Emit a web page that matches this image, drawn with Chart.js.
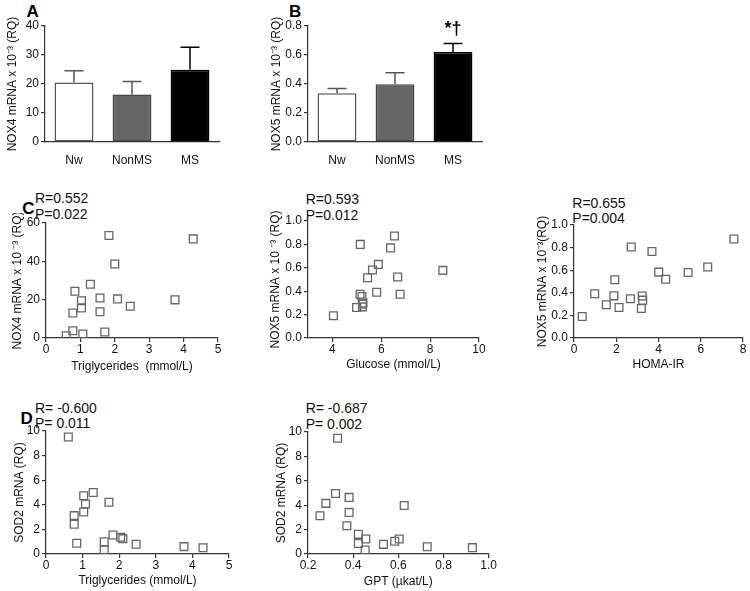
<!DOCTYPE html>
<html>
<head>
<meta charset="utf-8">
<script src="https://cdn.jsdelivr.net/npm/chart.js@4.4.1/dist/chart.umd.min.js"></script>
<style>
body { margin: 0; width: 750px; height: 591px; overflow: hidden; background: #fff; position: relative; font-family: "Liberation Sans", Arial, sans-serif; }
canvas { position: absolute; }
.rp { position: absolute; font-size: 14px; line-height: 15.5px; color: #111; white-space: nowrap; }
.pl { position: absolute; font-size: 17px; line-height: 17px; font-weight: bold; color: #000; }
</style>
</head>
<body>
<div class="pl" style="left:26.5px;top:2.8px">A</div>
<div class="pl" style="left:289px;top:2.8px">B</div>
<div class="pl" style="left:22.3px;top:199.5px">C</div>
<div class="pl" style="left:20.5px;top:409.5px">D</div>
<div class="rp" style="left:35px;top:191.4px">R=0.552<br>P=0.022</div>
<div class="rp" style="left:305.7px;top:192.4px">R=0.593<br>P=0.012</div>
<div class="rp" style="left:572.3px;top:195.7px">R=0.655<br>P=0.004</div>
<div class="rp" style="left:35px;top:400.7px">R= -0.600<br>P= 0.011</div>
<div class="rp" style="left:305.7px;top:401.4px">R= -0.687<br>P= 0.002</div>
<script>
// bar panels A, B
var groups = ['Nw', 'NonMS', 'MS'];
var nox4Mean = [20.5, 16.4, 24.9];
var nox4Sem = [4.1, 4.5, 7.8];
var nox5Mean = [0.337, 0.399, 0.62];
var nox5Sem = [0.032, 0.078, 0.06];
var nox5Marks = ['', '', '*\u2020'];

// scatter panels C
var tgC = [0.59, 0.78, 0.78, 0.84, 1.07, 1.03, 1.03, 1.29, 1.57, 1.57, 1.71, 1.83, 2.0, 2.08, 2.45, 3.75, 4.28];
var nox4Tg = [1.2, 3.8, 13, 24.4, 2.1, 15.7, 19.4, 28, 20.9, 13.7, 3.1, 53.5, 38.6, 20.4, 16.6, 19.9, 51.7];
var glucose = [4.04, 4.99, 5.14, 5.13, 5.21, 5.23, 5.23, 5.25, 5.44, 5.64, 5.88, 5.81, 6.38, 6.54, 6.67, 6.77, 8.52];
var nox5Glu = [0.19, 0.26, 0.80, 0.374, 0.354, 0.289, 0.266, 0.30, 0.515, 0.581, 0.629, 0.391, 0.77, 0.872, 0.521, 0.374, 0.578];
var homa = [0.39, 0.98, 1.53, 1.89, 1.93, 2.13, 2.67, 2.71, 3.23, 3.25, 3.19, 3.69, 4.01, 4.34, 5.4, 6.33, 7.57];
var nox5Homa = [0.19, 0.391, 0.294, 0.373, 0.515, 0.27, 0.347, 0.806, 0.371, 0.335, 0.261, 0.766, 0.583, 0.52, 0.58, 0.629, 0.876];

// scatter panels D
var tgD = [0.61, 0.77, 0.77, 0.84, 1.03, 1.08, 1.03, 1.29, 1.72, 1.59, 1.59, 1.83, 2.04, 2.10, 2.46, 3.77, 4.29];
var sod2Tg = [9.51, 3.12, 2.42, 0.87, 4.73, 4.07, 3.42, 5.0, 4.21, 1.0, 0.33, 1.55, 1.36, 1.25, 0.79, 0.6, 0.51];
var gpt = [0.253, 0.279, 0.322, 0.331, 0.382, 0.382, 0.372, 0.423, 0.423, 0.456, 0.453, 0.534, 0.584, 0.604, 0.626, 0.728, 0.928];
var sod2Gpt = [3.13, 4.15, 4.96, 9.49, 4.64, 3.41, 2.31, 1.61, 0.87, 1.23, 0.33, 0.79, 1.04, 1.23, 3.98, 0.6, 0.52];

// tick labels
var ticksNox4Bar = [0, 10, 20, 30, 40];
var ticksNox5Bar = [0, 0.2, 0.4, 0.6, 0.8];
var ticksTg = [0, 1, 2, 3, 4, 5];
var ticksNox4 = [0, 20, 40, 60];
var ticksGlu = [4, 6, 8, 10];
var ticksNox5 = [0, 0.2, 0.4, 0.6, 0.8, 1.0];
var ticksHoma = [0, 2, 4, 6, 8];
var ticksSod2 = [0, 2, 4, 6, 8, 10];
var ticksGpt = [0.2, 0.4, 0.6, 0.8, 1.0];

var F = '"Liberation Sans", Arial, sans-serif';
var YW = 45, PT = 10, PR = 8;
var AXC = '#333';

function addCanvas(a, xh) {
    var c = document.createElement('canvas');
    var w = a.r - a.l + YW + PR, h = a.b - a.t + PT + xh;
    c.width = w; c.height = h;
    c.style.left = (a.l - YW) + 'px'; c.style.top = (a.t - PT) + 'px';
    c.style.width = w + 'px'; c.style.height = h + 'px';
    document.body.appendChild(c);
    return c;
}

function fmt(dec) { return function(v) { return dec ? Number(v).toFixed(dec) : String(v); }; }

function yAxis(ticks, dec, title, tpad) {
    return {
        type: 'linear', min: ticks[0], max: ticks[ticks.length - 1],
        afterFit: function(s) { s.width = YW; },
        afterBuildTicks: function(s) { s.ticks = ticks.map(function(v) { return { value: v }; }); },
        ticks: { color: '#111', font: { size: 12, family: F }, padding: 2, callback: fmt(dec) },
        grid: { drawOnChartArea: false, drawTicks: true, tickLength: 4, color: AXC, lineWidth: 1.2 },
        border: { color: AXC, width: 1.2 },
        title: { display: true, text: title, color: '#111', font: { size: 12, family: F }, padding: { top: tpad, bottom: 0 } }
    };
}

function xAxis(ticks, dec, title, bpad) {
    return {
        type: 'linear', min: ticks[0] === 4 ? 3 : ticks[0], max: ticks[ticks.length - 1],
        afterFit: function(s) { s.height = 40; },
        afterBuildTicks: function(s) { s.ticks = ticks.map(function(v) { return { value: v }; }); },
        ticks: { color: '#111', font: { size: 12, family: F }, padding: 0, maxRotation: 0, autoSkip: false, callback: fmt(dec) },
        grid: { drawOnChartArea: false, drawTicks: true, tickLength: 4, color: AXC, lineWidth: 1.2 },
        border: { color: AXC, width: 1.2 },
        title: { display: true, text: title, color: '#111', font: { size: 12, family: F }, padding: { top: 0, bottom: bpad } }
    };
}

function errPlugin(sem, cols, marks) {
    return {
        id: 'errbars',
        afterDatasetsDraw: function(chart) {
            var ctx = chart.ctx, ys = chart.scales.y;
            var vals = chart.data.datasets[0].data;
            chart.getDatasetMeta(0).data.forEach(function(b, i) {
                var top = ys.getPixelForValue(vals[i] + sem[i]);
                ctx.save();
                ctx.strokeStyle = cols[i]; ctx.lineWidth = 1.5;
                ctx.beginPath();
                ctx.moveTo(b.x, b.y); ctx.lineTo(b.x, top);
                ctx.moveTo(b.x - 9.5, top); ctx.lineTo(b.x + 9.5, top);
                ctx.stroke();
                if (marks && marks[i]) {
                    ctx.fillStyle = '#000'; ctx.font = 'bold 18px ' + F;
                    ctx.textAlign = 'center'; ctx.textBaseline = 'alphabetic';
                    ctx.fillText(marks[i], b.x, top - 9);
                }
                ctx.restore();
            });
        }
    };
}

function barChart(a, means, sem, marks, ticks, dec, title, tpad) {
    new Chart(addCanvas(a, 25), {
        type: 'bar',
        data: { labels: groups, datasets: [{
            data: means,
            backgroundColor: ['#ffffff', '#666666', '#000000'],
            borderColor: ['#555555', '#444444', '#000000'],
            borderWidth: 1.5, borderSkipped: false,
            barPercentage: 0.67, categoryPercentage: 1
        }]},
        options: {
            responsive: false, animation: false, devicePixelRatio: 1,
            layout: { padding: { top: PT, right: PR, left: 0, bottom: 0 } },
            plugins: { legend: { display: false }, tooltip: { enabled: false } },
            scales: {
                x: { type: 'category', offset: true, afterFit: function(s) { s.height = 25; },
                     grid: { display: false }, border: { color: AXC, width: 1.2 },
                     ticks: { color: '#111', font: { size: 12, family: F }, padding: 3 } },
                y: yAxis(ticks, dec, title, tpad)
            }
        },
        plugins: [errPlugin(sem, ['#555555', '#555555', '#000000'], marks)]
    });
}

function scatterChart(a, xs, ys, xt, xdec, xtitle, bpad, yt, ydec, ytitle, tpad) {
    new Chart(addCanvas(a, 40), {
        type: 'scatter',
        data: { datasets: [{
            data: xs.map(function(x, i) { return { x: x, y: ys[i] }; }),
            pointStyle: 'rect', pointRadius: 5.5, pointBorderWidth: 1.3,
            borderColor: '#666666', backgroundColor: 'rgba(255,255,255,0)'
        }]},
        options: {
            responsive: false, animation: false, devicePixelRatio: 1,
            layout: { padding: { top: PT, right: PR, left: 0, bottom: 0 } },
            plugins: { legend: { display: false }, tooltip: { enabled: false } },
            scales: {
                x: xAxis(xt, xdec, xtitle, bpad),
                y: yAxis(yt, ydec, ytitle, tpad)
            }
        }
    });
}

barChart({ l: 45, t: 26, r: 219, b: 142 }, nox4Mean, nox4Sem, null, ticksNox4Bar, 0, 'NOX4 mRNA x 10\u207B\u00B3 (RQ)', 5.8);
barChart({ l: 308, t: 26, r: 482, b: 142 }, nox5Mean, nox5Sem, nox5Marks, ticksNox5Bar, 1, 'NOX5 mRNA x 10\u207B\u00B3 (RQ)', 6.8);

scatterChart({ l: 46, t: 223, r: 218, b: 338 }, tgC, nox4Tg, ticksTg, 0, 'Triglycerides  (mmol/L)', 3.8,
             ticksNox4, 0, 'NOX4 mRNA x 10 \u207B\u00B3 (RQ)', 9.3);
scatterChart({ l: 308, t: 221, r: 479, b: 338 }, glucose, nox5Glu, ticksGlu, 0, 'Glucose (mmol/L)', 5.8,
             ticksNox5, 1, 'NOX5 mRNA x 10 \u207B\u00B3 (RQ)', 5.8);
scatterChart({ l: 574, t: 225, r: 743, b: 338 }, homa, nox5Homa, ticksHoma, 0, 'HOMA-IR', 5.8,
             ticksNox5, 1, 'NOX5 mRNA x 10\u207B\u00B3(RQ)', 6.3);
scatterChart({ l: 46, t: 431, r: 229, b: 554 }, tgD, sod2Tg, ticksTg, 0, 'Triglycerides (mmol/L)', 5.8,
             ticksSod2, 0, 'SOD2 mRNA (RQ)', 11.8);
scatterChart({ l: 308, t: 432, r: 489, b: 554 }, gpt, sod2Gpt, ticksGpt, 1, 'GPT (\u00B5kat/L)', 5.2,
             ticksSod2, 0, 'SOD2 mRNA (RQ)', 11.8);
</script>
</body>
</html>
